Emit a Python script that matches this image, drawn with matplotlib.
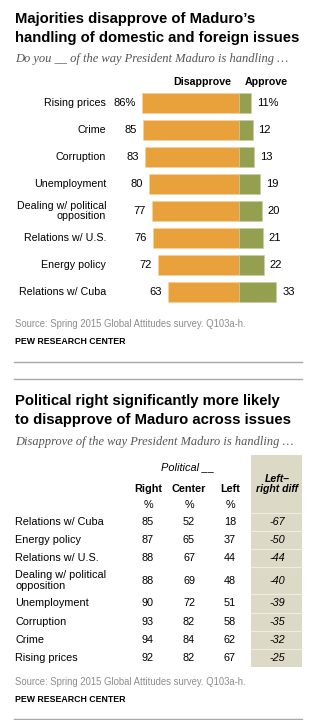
import matplotlib.pyplot as plt
from matplotlib.patches import Rectangle

# Approval of Maduro's handling of issues (top chart)
issues = ['Rising prices', 'Crime', 'Corruption', 'Unemployment',
          'Dealing w/ political\nopposition', 'Relations w/ U.S.',
          'Energy policy', 'Relations w/ Cuba']
disapprove = [86, 85, 83, 80, 77, 76, 72, 63]
approve = [11, 12, 13, 19, 20, 21, 22, 33]

# Disapproval by political ideology (bottom table)
table_issues = ['Relations w/ Cuba', 'Energy policy', 'Relations w/ U.S.',
                'Dealing w/ political\nopposition', 'Unemployment',
                'Corruption', 'Crime', 'Rising prices']
right = [85, 87, 88, 88, 90, 93, 94, 92]
center = [52, 65, 67, 69, 72, 82, 84, 82]
left = [18, 37, 44, 48, 51, 58, 62, 67]
diff = [-67, -50, -44, -40, -39, -35, -32, -25]

ORANGE = '#E9A23B'
GREEN = '#949F50'
BEIGE = '#DDD9C7'
GRAY = '#8C8C8C'
SANS = 'Liberation Sans'
SERIF = 'Liberation Serif'

W, H = 329, 720
fig = plt.figure(figsize=(W / 100, H / 100), dpi=100)

# overlay axes in pixel units for titles, notes and the table
ax = fig.add_axes([0, 0, 1, 1])
ax.set_xlim(0, W)
ax.set_ylim(H, 0)
ax.axis('off')

# ---- top chart -------------------------------------------------------
ax.text(15, 23, 'Majorities disapprove of Maduro\u2019s', fontsize=10.7,
        fontweight='bold', family=SANS, va='baseline')
ax.text(15, 42, 'handling of domestic and foreign issues', fontsize=10.7,
        fontweight='bold', family=SANS, va='baseline')
ax.text(15, 62, 'Do you __ of the way President Maduro is handling \u2026',
        fontsize=9.0, style='italic', family=SERIF, color='#555555',
        va='baseline')

# bar axes: zero line at x=239 px, 1.13 px per point, rows 26.9 px apart
zero_px, px_per_pt = 239, 1.13
row0, row_step = 103.3, 26.9
top_px = row0 - 0.5 * row_step
bot_px = row0 + 7.5 * row_step
bx = fig.add_axes([0, 1 - bot_px / H, 1, (bot_px - top_px) / H])
bx.set_xlim(-zero_px / px_per_pt, (W - zero_px) / px_per_pt)
bx.set_ylim(7.5, -0.5)
bx.axis('off')

ypos = range(len(issues))
bx.barh(ypos, [-d for d in disapprove], height=0.74, color=ORANGE,
        edgecolor='#F3D29F', linewidth=0.4)
bx.barh(ypos, approve, height=0.74, color=GREEN,
        edgecolor='#C5CBA0', linewidth=0.4)

pad = 6 / px_per_pt
for i, (name, d, a) in enumerate(zip(issues, disapprove, approve)):
    suffix = '%' if i == 0 else ''
    bx.text(-117.5, i, name, ha='right', va='center', fontsize=7.7,
            family=SANS, linespacing=1.05)
    bx.text(-d - pad, i, f'{d}{suffix}', ha='right', va='center',
            fontsize=8, family=SANS)
    bx.text(a + pad, i, f'{a}{suffix}', ha='left', va='center',
            fontsize=8, family=SANS)

bx.text(-32.7, -0.8, 'Disapprove', ha='center', va='center', fontsize=7.7,
        fontweight='bold', family=SANS)
bx.text(23.9, -0.8, 'Approve', ha='center', va='center', fontsize=7.7,
        fontweight='bold', family=SANS)

ax.text(15, 324, 'Source: Spring 2015 Global Attitudes survey. Q103a-h.',
        fontsize=6.85, family=SANS, color=GRAY, va='center')
ax.text(15, 341, 'PEW RESEARCH CENTER', fontsize=6.3, fontweight='bold',
        family=SANS, va='center')

for yl in (361.7, 379.3, 719.2):
    ax.plot([14, 302], [yl, yl], color='#A8A8A8', lw=1)

# ---- bottom table ----------------------------------------------------
ax.text(15, 405, 'Political right significantly more likely', fontsize=10.7,
        fontweight='bold', family=SANS, va='baseline')
ax.text(15, 424, 'to disapprove of Maduro across issues', fontsize=10.7,
        fontweight='bold', family=SANS, va='baseline')
ax.text(15, 445, 'Disapprove of the way President Maduro is handling \u2026',
        fontsize=8.9, style='italic', family=SERIF, color='#555555',
        va='baseline')

col_x = [148, 189, 230]
diff_x = 277
shade_l, shade_r = 251, 302

# row heights: two-line labels get a taller row
heights = [26.8 if '\n' in t else 18.3 for t in table_issues]
tops = [512.6]
for h in heights:
    tops.append(tops[-1] + h)
centers = [t + h / 2 for t, h in zip(tops, heights)]

ax.add_patch(Rectangle((shade_l, 455), shade_r - shade_l, tops[-1] - 455,
                       facecolor=BEIGE, edgecolor='none', zorder=0))
for t in tops[:-1]:
    ax.plot([shade_l, shade_r], [t, t], color='#EEECE3', lw=0.8, zorder=1)

ax.text(188, 467, 'Political __', ha='center', va='center', fontsize=7.9,
        style='italic', family=SANS)
for x, lab in zip(col_x, ['Right', 'Center', 'Left']):
    ax.text(x, 489, lab, ha='center', va='center', fontsize=7.8,
            fontweight='bold', family=SANS)
    ax.text(x, 505, '%', ha='center', va='center', fontsize=7.8,
            family=SANS)
ax.text(diff_x, 483.5, 'Left\u2013\nright diff', ha='center', va='center',
        fontsize=7.6, fontweight='bold', style='italic', family=SANS,
        linespacing=1.0)

for i, name in enumerate(table_issues):
    y = centers[i]
    ax.text(15, y, name, ha='left', va='center', fontsize=7.8, family=SANS,
            linespacing=1.1)
    for x, vals in zip(col_x, (right, center, left)):
        ax.text(x, y, str(vals[i]), ha='center', va='center', fontsize=7.8,
                family=SANS)
    ax.text(diff_x, y, str(diff[i]), ha='center', va='center', fontsize=7.8,
            style='italic', family=SANS)

ax.text(15, 682, 'Source: Spring 2015 Global Attitudes survey. Q103a-h.',
        fontsize=6.85, family=SANS, color=GRAY, va='center')
ax.text(15, 700, 'PEW RESEARCH CENTER', fontsize=6.3, fontweight='bold',
        family=SANS, va='center')

fig.savefig('out.png', dpi=100, facecolor='white')
